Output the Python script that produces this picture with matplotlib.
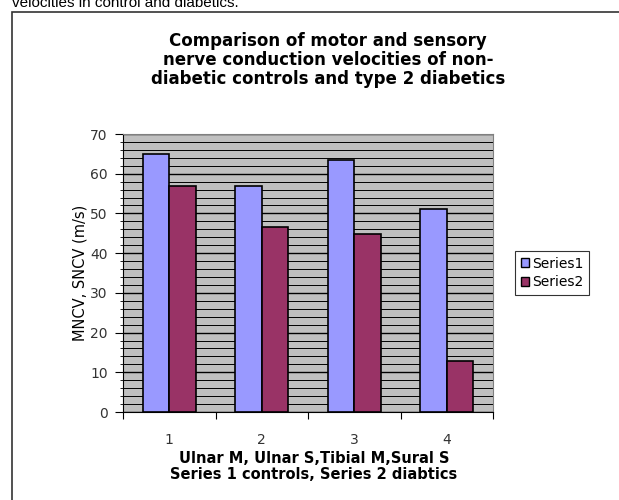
import numpy as np
import matplotlib.pyplot as plt
from matplotlib.patches import Rectangle, Patch
from matplotlib.ticker import MultipleLocator

plt.rcParams['font.family'] = ['DejaVu Sans']

# data
categories = ['1', '2', '3', '4']
series1 = [65, 57, 63.5, 51]
series2 = [57, 46.5, 44.8, 12.8]
series_names = ['Series1', 'Series2']

fig = plt.figure(figsize=(6.19, 5.0), dpi=100)

# outer chart frame (runs off the right and bottom edges)
fig.patches.append(Rectangle((12 / 619, -0.1), 1.1, 1 - 12 / 500 + 0.1,
                             transform=fig.transFigure, fill=False,
                             edgecolor='#333333', linewidth=1.2))

# cut-off caption text above the chart
fig.text(12 / 619, 1 - 7 / 500, 'velocities in control and diabetics.',
         fontsize=11, va='baseline', ha='left', color='black',
         family='Liberation Sans')

fig.text(328 / 619, 1 - 60 / 500, 'Comparison of motor and sensory\n'
         'nerve conduction velocities of non-\n'
         'diabetic controls and type 2 diabetics',
         fontsize=12, fontweight='bold', ha='center', va='center',
         linespacing=1.05)

ax = fig.add_axes([123 / 619, 1 - 412 / 500, 370 / 619, 278 / 500])
ax.set_facecolor('#C0C0C0')

x = np.arange(len(categories))
w = 1 / 3.5
ax.bar(x - w / 2, series1, w, color='#9999FF', edgecolor='black', linewidth=1.2,
       zorder=3, label=series_names[0])
ax.bar(x + w / 2, series2, w, color='#993366', edgecolor='black', linewidth=1.2,
       zorder=3, label=series_names[1])

ax.set_xlim(-0.5, 3.5)
ax.set_ylim(0, 70)
ax.yaxis.set_major_locator(MultipleLocator(10))
ax.yaxis.set_minor_locator(MultipleLocator(2))
ax.grid(axis='y', which='major', color='black', linewidth=1.0, zorder=1)
ax.grid(axis='y', which='minor', color='black', linewidth=0.7, zorder=1)
ax.tick_params(axis='y', which='major', length=6, labelsize=10,
               labelcolor='#333333', pad=5)
ax.tick_params(axis='y', which='minor', length=2)

# category boundary ticks, labels centred
ax.set_xticks(np.arange(-0.5, 4, 1))
ax.set_xticklabels([])
ax.set_xticks(x, minor=True)
ax.set_xticklabels(categories, minor=True, fontsize=10, color='#333333')
ax.tick_params(axis='x', which='major', length=5)
ax.tick_params(axis='x', which='minor', length=0, pad=15)

for s in ['top', 'right']:
    ax.spines[s].set_color('#808080')
ax.spines['left'].set_color('black')
ax.spines['bottom'].set_color('black')

ax.set_ylabel('MNCV, SNCV (m/s)', fontsize=10.5)
ax.yaxis.set_label_coords(-0.095, 0.5)

fig.text(314 / 619, 1 - 466.5 / 500,
         'Ulnar M, Ulnar S,Tibial M,Sural S\nSeries 1 controls, Series 2 diabtics',
         fontsize=10.5, fontweight='bold', ha='center', va='center',
         linespacing=1.12)

handles = [Patch(facecolor='#9999FF', edgecolor='black'),
           Patch(facecolor='#993366', edgecolor='black')]
leg = fig.legend(handles, series_names, loc='upper left',
                 bbox_to_anchor=(515 / 619, 1 - 251 / 500), fontsize=10,
                 frameon=True, fancybox=False, handlelength=0.6,
                 handleheight=0.6, handletextpad=0.2, borderpad=0.4,
                 labelspacing=0.35, borderaxespad=0)
leg.get_frame().set_edgecolor('black')
leg.get_frame().set_linewidth(0.8)

fig.savefig('out.png', dpi=100)
